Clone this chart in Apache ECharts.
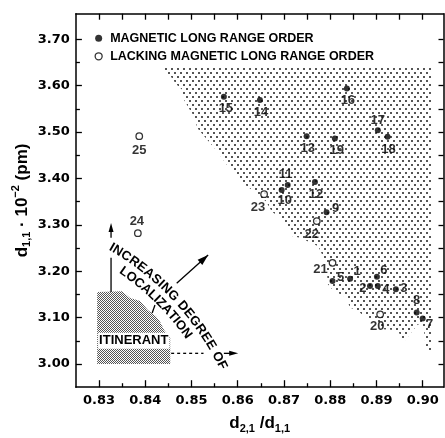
<!DOCTYPE html>
<html>
<head>
<meta charset="utf-8">
<script src="https://cdn.jsdelivr.net/npm/echarts@6/dist/echarts.min.js"></script>
<style>
  html, body { margin: 0; padding: 0; background: #fff; }
  #c { width: 445px; height: 438px; }
</style>
</head>
<body>
<div id="c"></div>
<script>
// Compounds with magnetic long range order (filled marks)
const magIds = [1, 2, 3, 4, 5, 6, 7, 8, 9, 10, 11, 12, 13, 14, 15, 16, 17, 18, 19];
const magX = [0.8843, 0.8886, 0.8942, 0.8903, 0.8805, 0.8901, 0.9000, 0.8987, 0.8792, 0.8695,
              0.8708, 0.8767, 0.8749, 0.8648, 0.8570, 0.8836, 0.8903, 0.8924, 0.8810];
const magY = [3.184, 3.168, 3.161, 3.168, 3.179, 3.188, 3.098, 3.111, 3.327, 3.375,
              3.386, 3.392, 3.491, 3.569, 3.576, 3.594, 3.504, 3.490, 3.486];

// Compounds lacking magnetic long range order (open marks)
const openIds = [20, 21, 22, 23, 24, 25];
const openX = [0.8908, 0.8805, 0.8771, 0.8657, 0.8384, 0.8387];
const openY = [3.107, 3.218, 3.308, 3.366, 3.282, 3.491];

// Axis ticks
const xTickValues = [0.83, 0.84, 0.85, 0.86, 0.87, 0.88, 0.89, 0.90];
const xMinorValues = [0.835, 0.845, 0.855, 0.865, 0.875, 0.885, 0.895];
const yTickValues = [3.00, 3.10, 3.20, 3.30, 3.40, 3.50, 3.60, 3.70];
const yMinorValues = [3.05, 3.15, 3.25, 3.35, 3.45, 3.55, 3.65];

// Stippled region (localized behaviour), outline in data units
const zoneX = [0.8432, 0.9020, 0.9020, 0.9007, 0.9003, 0.8990, 0.8957, 0.8947, 0.8914, 0.8903,
               0.8869, 0.8860, 0.8843, 0.8834, 0.8806, 0.8795, 0.8791, 0.8782, 0.8774, 0.8735,
               0.8717, 0.8713, 0.8687, 0.8674, 0.8661, 0.8640, 0.8631, 0.8611, 0.8601, 0.8588,
               0.8575, 0.8557, 0.8549, 0.8536, 0.8523, 0.8512, 0.8508, 0.8497, 0.8484, 0.8480,
               0.8467, 0.8454, 0.8443];
const zoneY = [3.640, 3.640, 3.026, 3.026, 3.073, 3.086, 3.045, 3.073, 3.075, 3.091,
               3.106, 3.116, 3.121, 3.144, 3.159, 3.172, 3.220, 3.237, 3.254, 3.272,
               3.276, 3.293, 3.319, 3.328, 3.351, 3.366, 3.375, 3.390, 3.401, 3.418,
               3.431, 3.457, 3.466, 3.481, 3.496, 3.509, 3.530, 3.547, 3.569, 3.591,
               3.603, 3.621, 3.629];

// Itinerant corner
const itinX = [0.8296, 0.8350, 0.8367, 0.8389, 0.8406, 0.8423, 0.8432, 0.8441, 0.8454, 0.8454, 0.8296];
const itinY = [3.155, 3.157, 3.142, 3.136, 3.116, 3.103, 3.091, 3.073, 3.056, 3.000, 3.000];

const X_MIN = 0.825, X_MAX = 0.9045;
const Y_MIN = 2.95, Y_MAX = 3.755;

const LEG_MAG = 'MAGNETIC LONG RANGE ORDER';
const LEG_OPEN = 'LACKING MAGNETIC LONG RANGE ORDER';

// where each number sits relative to its mark (pixels)
const nudge = {
  1: [7, -7], 2: [-7, 2], 3: [8, -1], 4: [8, 3], 5: [8, -4], 6: [7, -6], 7: [7, 6], 8: [0, -12],
  9: [9, -4], 10: [3, 10], 11: [-2, -10], 12: [1, 12], 13: [1, 12], 14: [1, 12], 15: [2, 12],
  16: [1, 12], 17: [0, -10], 18: [1, 13], 19: [2, 12], 20: [-3, 12], 21: [-12, 7], 22: [-5, 13],
  23: [-6, 13], 24: [-1, -12], 25: [0, 14]
};

const SANS = '"Liberation Sans", Arial, sans-serif';

function makePattern(w, h, dots, color) {
  const c = document.createElement('canvas');
  c.width = w; c.height = h;
  const g = c.getContext('2d');
  g.fillStyle = color;
  dots.forEach(d => g.fillRect(d[0], d[1], d[2], d[3]));
  return c;
}
const stipple = makePattern(12, 8, [[0, 0, 2, 2], [6, 0, 2, 2], [3, 4, 2, 2], [9, 4, 2, 2]], '#555');
const fineDots = makePattern(2, 2, [[0, 0, 1, 1], [1, 1, 1, 1]], '#555');

const measureCtx = document.createElement('canvas').getContext('2d');

function points(ids, xs, ys) {
  return ids.map((id, i) => ({ value: [xs[i], ys[i]], name: String(id), label: { offset: nudge[id] } }));
}

function arrowHead(tip, from, len, halfW) {
  const dx = tip[0] - from[0], dy = tip[1] - from[1];
  const n = Math.hypot(dx, dy) || 1;
  const ux = dx / n, uy = dy / n;
  const bx = tip[0] - ux * len, by = tip[1] - uy * len;
  return {
    type: 'polygon',
    shape: { points: [tip, [bx - uy * halfW, by + ux * halfW], [bx + uy * halfW, by - ux * halfW]] },
    style: { fill: '#000' }
  };
}

function seg(a, b, dash) {
  return {
    type: 'line',
    shape: { x1: a[0], y1: a[1], x2: b[0], y2: b[1] },
    style: { stroke: '#000', lineWidth: 1.3, lineDash: dash || null }
  };
}

// letters laid along a circular arc, upright to the outside
function arcText(out, center, r, startDeg, str, font, spacing) {
  measureCtx.font = font;
  let a = startDeg * Math.PI / 180;
  for (const ch of str) {
    const w = measureCtx.measureText(ch).width + spacing;
    const mid = a + (w / 2) / r;
    if (ch !== ' ') {
      out.push({
        type: 'text',
        x: center[0] + r * Math.cos(mid),
        y: center[1] + r * Math.sin(mid),
        rotation: -(mid + Math.PI / 2),
        style: { text: ch, font: font, fill: '#000', align: 'center', verticalAlign: 'middle' }
      });
    }
    a += w / r;
  }
}

function drawNotes(params, api) {
  const P = (x, y) => api.coord([x, y]);
  const kids = [];
  kids.push({
    type: 'polygon',
    shape: { points: zoneX.map((x, i) => P(x, zoneY[i])) },
    style: { fill: { image: stipple, repeat: 'repeat' } }
  });
  kids.push({
    type: 'polygon',
    shape: { points: itinX.map((x, i) => P(x, itinY[i])) },
    style: { fill: { image: fineDots, repeat: 'repeat' } }
  });
  const itPos = P(0.8298, 3.050);
  kids.push({
    type: 'text', x: itPos[0], y: itPos[1],
    style: {
      text: 'ITINERANT', font: 'bold 13px ' + SANS, fill: '#000',
      align: 'left', verticalAlign: 'middle', backgroundColor: '#fff', padding: [2, 1, 1, 1]
    }
  });

  // upward dashed arrow
  kids.push(seg(P(0.8326, 3.155), P(0.8326, 3.229)));
  kids.push(seg(P(0.8326, 3.272), P(0.8326, 3.285)));
  kids.push(arrowHead(P(0.8326, 3.304), P(0.8326, 3.272), 9, 2.5));

  // rightward dashed arrow
  kids.push(seg(P(0.8456, 3.023), P(0.8526, 3.023), [3, 3]));
  kids.push(seg(P(0.8570, 3.023), P(0.8585, 3.023)));
  kids.push(arrowHead(P(0.8601, 3.023), P(0.8570, 3.023), 9, 2.5));

  // solid diagonal arrow
  const dFrom = P(0.8468, 3.174), dTip = P(0.8536, 3.235);
  kids.push(seg(dFrom, dTip));
  kids.push(arrowHead(dTip, dFrom, 11, 3.5));

  kids.push(seg(P(0.8421, 3.127), P(0.8415, 3.110)));

  const c = P(0.8026, 2.733);
  arcText(kids, c, 278, -60.3, 'INCREASING DEGREE OF', 'bold 13px ' + SANS, 0.4);
  arcText(kids, c, 264, -55.8, 'LOCALIZATION', 'bold 13px ' + SANS, 0);

  return { type: 'group', children: kids };
}

const tickFont = { fontFamily: '"DejaVu Sans", sans-serif', fontWeight: 'bold', fontSize: 13, color: '#000' };
const lineStyle = { color: '#000', width: 1.5 };

function xAxisDef(position, ticks, len, showLabels, showLine, extra) {
  return Object.assign({
    type: 'value', position: position, min: X_MIN, max: X_MAX,
    axisLine: { show: showLine, onZero: false, lineStyle: lineStyle },
    axisTick: { show: true, inside: true, length: len, customValues: ticks, lineStyle: { color: '#000', width: 1.3 } },
    axisLabel: showLabels
      ? Object.assign({ show: true, customValues: ticks, margin: 7, formatter: v => v.toFixed(2) }, tickFont)
      : { show: false },
    splitLine: { show: false }
  }, extra || {});
}
function yAxisDef(position, ticks, len, showLabels, showLine, extra) {
  return Object.assign({
    type: 'value', position: position, min: Y_MIN, max: Y_MAX,
    axisLine: { show: showLine, onZero: false, lineStyle: lineStyle },
    axisTick: { show: true, inside: true, length: len, customValues: ticks, lineStyle: { color: '#000', width: 1.3 } },
    axisLabel: showLabels
      ? Object.assign({ show: true, customValues: ticks, margin: 6, formatter: v => v.toFixed(2) }, tickFont)
      : { show: false },
    splitLine: { show: false }
  }, extra || {});
}

const titleRich = {
  m: { fontFamily: SANS, fontWeight: 'bold', fontSize: 17, lineHeight: 22, color: '#000' },
  s: { fontFamily: SANS, fontWeight: 'bold', fontSize: 11, lineHeight: 11, verticalAlign: 'bottom', color: '#000' },
  p: { fontFamily: SANS, fontWeight: 'bold', fontSize: 11, lineHeight: 11, verticalAlign: 'top', color: '#000' }
};

const numLabel = {
  show: true, position: 'inside', formatter: '{b}', color: '#000',
  fontFamily: SANS, fontWeight: 'bold', fontSize: 13
};

const chart = echarts.init(document.getElementById('c'), null, { renderer: 'canvas' });
chart.setOption({
  animation: false,
  backgroundColor: '#fff',
  grid: { left: 75.9, right: 1.5, top: 13.7, bottom: 50.8, containLabel: false, outerBoundsMode: 'none' },
  legend: {
    orient: 'vertical', left: 89.5, top: 26.8, itemWidth: 7, itemHeight: 7, itemGap: 5,
    icon: 'circle', selectedMode: false,
    textStyle: { fontFamily: SANS, fontSize: 12.5, fontWeight: 'bold', color: '#000', padding: [0, 0, 0, 3] },
    data: [
      { name: LEG_MAG, itemStyle: { color: '#000', borderWidth: 0 } },
      { name: LEG_OPEN, itemStyle: { color: '#fff', borderColor: '#000', borderWidth: 1.3 } }
    ]
  },
  xAxis: [
    xAxisDef('bottom', xTickValues, 7, true, true, {
      name: '{m|d}{s|2,1}{m| /d}{s|1,1}', nameLocation: 'middle', nameGap: 25, nameMoveOverlap: false,
      nameTextStyle: { rich: titleRich }
    }),
    xAxisDef('bottom', xMinorValues, 4, false, false),
    xAxisDef('top', xTickValues.concat(xMinorValues), 6, false, true)
  ],
  yAxis: [
    yAxisDef('left', yTickValues, 6, true, true, {
      name: '{m|d}{s|1,1}{m| · 10}{p|−2}{m| (pm)}', nameLocation: 'middle', nameGap: 43, nameRotate: 90,
      nameMoveOverlap: false,
      nameTextStyle: { rich: titleRich }
    }),
    yAxisDef('left', yMinorValues, 4, false, false),
    yAxisDef('right', yTickValues.concat(yMinorValues), 5, false, true)
  ],
  series: [
    {
      type: 'custom', name: 'notes', z: 1, silent: true,
      xAxisIndex: 0, yAxisIndex: 0,
      renderItem: drawNotes,
      data: [[0.86, 3.3]]
    },
    {
      type: 'scatter', name: LEG_MAG, z: 3,
      xAxisIndex: 0, yAxisIndex: 0,
      symbol: 'circle', symbolSize: 6,
      itemStyle: { color: '#000' },
      label: numLabel,
      data: points(magIds, magX, magY)
    },
    {
      type: 'scatter', name: LEG_OPEN, z: 3,
      xAxisIndex: 0, yAxisIndex: 0,
      symbol: 'circle', symbolSize: 6.5,
      itemStyle: { color: '#fff', borderColor: '#000', borderWidth: 1.3 },
      label: numLabel,
      data: points(openIds, openX, openY)
    }
  ]
});
</script>
</body>
</html>
